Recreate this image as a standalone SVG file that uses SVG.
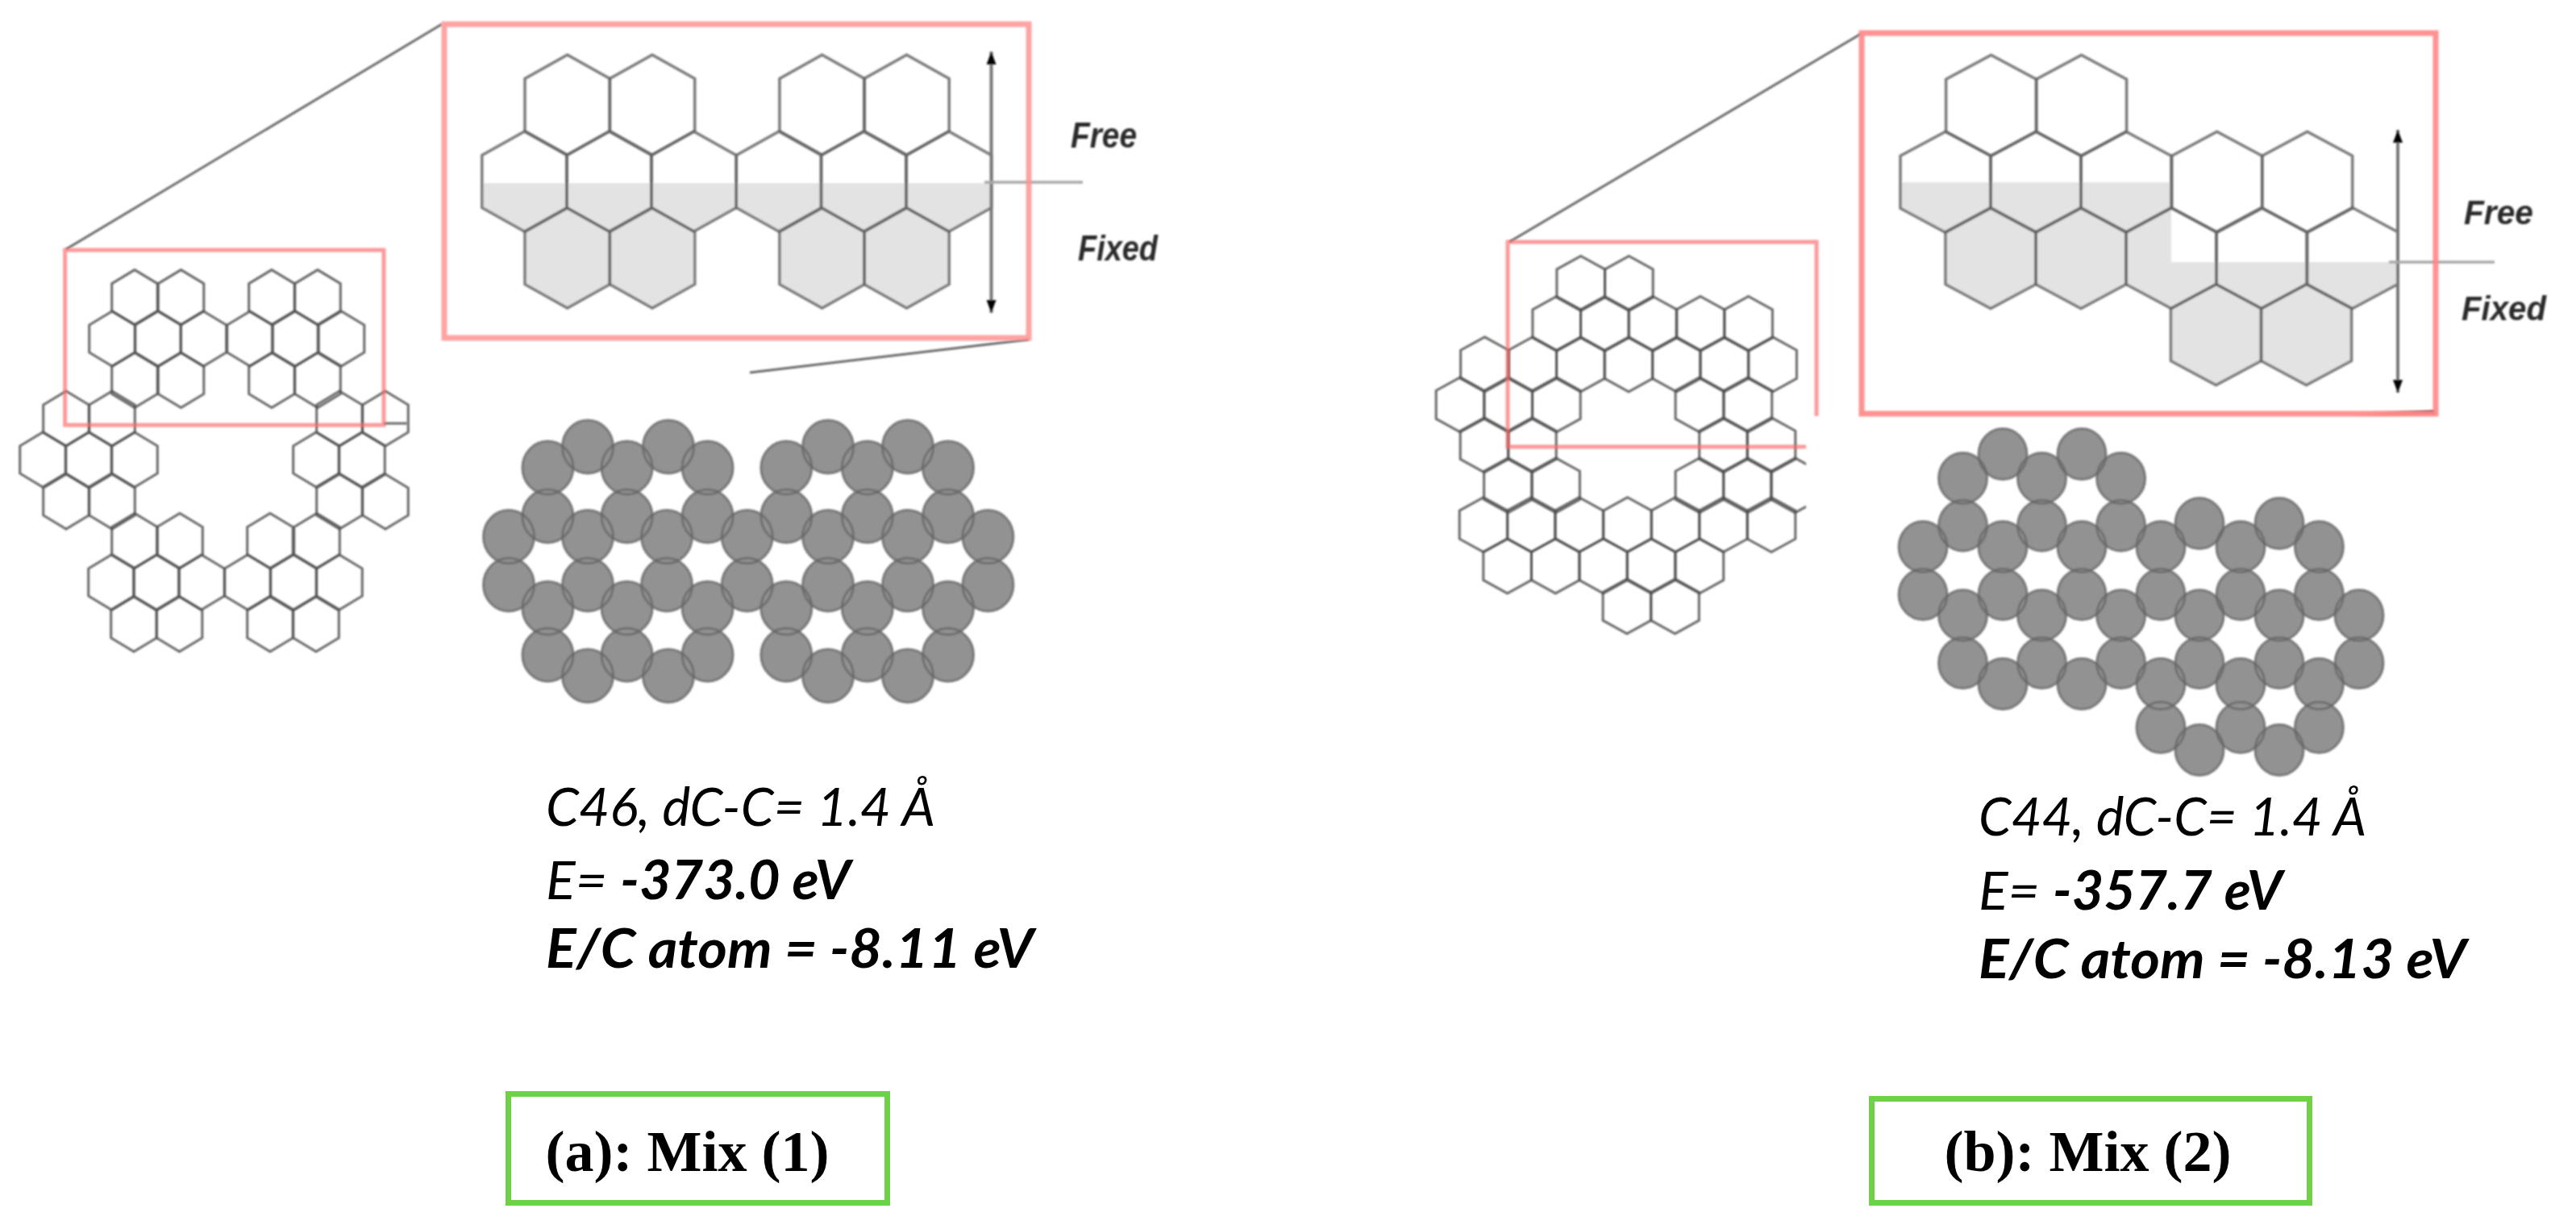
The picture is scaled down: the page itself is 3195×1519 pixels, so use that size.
<svg xmlns="http://www.w3.org/2000/svg" width="3195" height="1519" viewBox="0 0 3195 1519">
<style>
.hex{fill:none;stroke:#4f4f4f;stroke-width:3;stroke-opacity:.85;stroke-linejoin:miter}
.hexL{fill:none;stroke:#636363;stroke-width:3.5;stroke-opacity:.85}
.atomFill{fill:#929292;stroke:none}
.atomLine{fill:none;stroke:#666;stroke-width:3;stroke-opacity:.8}
.redS{fill:none;stroke:#ff6a6a;stroke-width:5;stroke-opacity:.68}
.redL{fill:none;stroke:#ff9393;stroke-width:7;stroke-opacity:.85}
.redM{fill:none;stroke:#ff8686;stroke-width:7;stroke-opacity:.9}
.zoomline{fill:none;stroke:#6a6a6a;stroke-width:3}
.band{fill:#e3e3e3;stroke:none}
.axis{fill:none;stroke:#777;stroke-width:4;marker-start:url(#head);marker-end:url(#head)}
.tick{fill:none;stroke:#a8a8a8;stroke-width:3.5}
.lab{font-family:"Liberation Sans",Arial,sans-serif;font-style:italic;font-weight:700;fill:#2a2a2a}
.info{font-family:Lato,"Open Sans",sans-serif;font-style:italic;font-size:66px;fill:#000}
.b{font-weight:700}
.cap{font-family:"Liberation Serif","Times New Roman",serif;font-weight:700;font-size:72px;fill:#000}
.gbox{fill:none;stroke:#6fd147;stroke-width:7}
</style>
<defs>
<polygon id="hs" class="hex" points="0,-34 28.3,-17 28.3,17 0,34 -28.3,17 -28.3,-17"/>
<polygon id="hr" class="hex" points="0,-33.9 29.8,-17.5 29.8,17.5 0,33.9 -29.8,17.5 -29.8,-17.5"/>
<polygon id="hl" class="hexL" points="0,-62 52.7,-32.5 52.7,32.5 0,62 -52.7,32.5 -52.7,-32.5"/>
<polygon id="hm" class="hexL" points="0,-62.5 56,-32.5 56,32.5 0,62.5 -56,32.5 -56,-32.5"/>
<ellipse id="ca" rx="31.5" ry="33"/>
<ellipse id="cb" rx="30" ry="31.5"/>
<g id="atomsA">
<use href="#ca" x="729" y="554"/><use href="#ca" x="829" y="554"/><use href="#ca" x="1027" y="554"/><use href="#ca" x="1126" y="554"/>
<use href="#ca" x="679.4" y="580"/><use href="#ca" x="777.6" y="580"/><use href="#ca" x="877.6" y="580"/><use href="#ca" x="975.3" y="580"/><use href="#ca" x="1075.8" y="580"/><use href="#ca" x="1176" y="580"/>
<use href="#ca" x="679.4" y="640"/><use href="#ca" x="777.6" y="640"/><use href="#ca" x="877.6" y="640"/><use href="#ca" x="975.3" y="640"/><use href="#ca" x="1075.8" y="640"/><use href="#ca" x="1176" y="640"/>
<use href="#ca" x="631" y="665.6"/><use href="#ca" x="729" y="665.6"/><use href="#ca" x="827" y="665.6"/><use href="#ca" x="926.7" y="665.6"/><use href="#ca" x="1027" y="665.6"/><use href="#ca" x="1126" y="665.6"/><use href="#ca" x="1225.4" y="665.6"/>
<use href="#ca" x="631" y="725"/><use href="#ca" x="729" y="725"/><use href="#ca" x="827" y="725"/><use href="#ca" x="926.7" y="725"/><use href="#ca" x="1027" y="725"/><use href="#ca" x="1126" y="725"/><use href="#ca" x="1225.4" y="725"/>
<use href="#ca" x="679.4" y="754"/><use href="#ca" x="777.6" y="754"/><use href="#ca" x="877.6" y="754"/><use href="#ca" x="975.3" y="754"/><use href="#ca" x="1075.8" y="754"/><use href="#ca" x="1176" y="754"/>
<use href="#ca" x="679.4" y="812"/><use href="#ca" x="777.6" y="812"/><use href="#ca" x="877.6" y="812"/><use href="#ca" x="975.3" y="812"/><use href="#ca" x="1075.8" y="812"/><use href="#ca" x="1176" y="812"/>
<use href="#ca" x="729" y="838"/><use href="#ca" x="829" y="838"/><use href="#ca" x="1027" y="838"/><use href="#ca" x="1126" y="838"/>
</g>
<g id="atomsB">
<use href="#cb" x="2484" y="563"/><use href="#cb" x="2582" y="563"/>
<use href="#cb" x="2434.5" y="593"/><use href="#cb" x="2532.5" y="593"/><use href="#cb" x="2630.6" y="593"/>
<use href="#cb" x="2434.5" y="651.7"/><use href="#cb" x="2532.5" y="651.7"/><use href="#cb" x="2630.6" y="651.7"/>
<use href="#cb" x="2728" y="649"/><use href="#cb" x="2827" y="649"/>
<use href="#cb" x="2385" y="678"/><use href="#cb" x="2484" y="678"/><use href="#cb" x="2582" y="678"/><use href="#cb" x="2680" y="678"/><use href="#cb" x="2779" y="678"/><use href="#cb" x="2876.4" y="678"/>
<use href="#cb" x="2385" y="737"/><use href="#cb" x="2484" y="737"/><use href="#cb" x="2582" y="737"/><use href="#cb" x="2680" y="737"/><use href="#cb" x="2779" y="737"/><use href="#cb" x="2876.4" y="737"/>
<use href="#cb" x="2434.5" y="763"/><use href="#cb" x="2532.5" y="763"/><use href="#cb" x="2630.6" y="763"/><use href="#cb" x="2728" y="763"/><use href="#cb" x="2827" y="763"/><use href="#cb" x="2926" y="763"/>
<use href="#cb" x="2434.5" y="822"/><use href="#cb" x="2532.5" y="822"/><use href="#cb" x="2630.6" y="822"/><use href="#cb" x="2728" y="822"/><use href="#cb" x="2827" y="822"/><use href="#cb" x="2926" y="822"/>
<use href="#cb" x="2484" y="848"/><use href="#cb" x="2582" y="848"/><use href="#cb" x="2680" y="848"/><use href="#cb" x="2779" y="848"/><use href="#cb" x="2876.4" y="848"/>
<use href="#cb" x="2680" y="902"/><use href="#cb" x="2779" y="902"/><use href="#cb" x="2876.4" y="902"/>
<use href="#cb" x="2728" y="930"/><use href="#cb" x="2827" y="930"/>
</g>
<marker id="head" viewBox="0 0 16 12" markerUnits="userSpaceOnUse" markerWidth="16" markerHeight="12" refX="16" refY="6" orient="auto-start-reverse"><path d="M0,0 L16,6 L0,12 z" fill="#000"/></marker>
<filter id="soft" x="-5%" y="-5%" width="110%" height="110%"><feGaussianBlur stdDeviation="0.8"/></filter>
<clipPath id="cut"><rect x="1700" y="280" width="540" height="520"/></clipPath>
<linearGradient id="fade" x1="0" x2="1" y1="0" y2="0"><stop offset="0" stop-color="#8a3a3a" stop-opacity="0"/><stop offset="1" stop-color="#7a4040"/></linearGradient>
</defs>
<rect width="3195" height="1519" fill="#fff"/>

<g id="panel-a-sheet" filter="url(#soft)">
<use href="#hs" x="167" y="368.6"/><use href="#hs" x="224.5" y="368.6"/><use href="#hs" x="337" y="368.6"/><use href="#hs" x="394" y="368.6"/>
<use href="#hs" x="139" y="420"/><use href="#hs" x="196" y="420"/><use href="#hs" x="252.5" y="420"/><use href="#hs" x="310" y="420"/><use href="#hs" x="366" y="420"/><use href="#hs" x="423.5" y="420"/>
<use href="#hs" x="167" y="471.5"/><use href="#hs" x="224.5" y="471.5"/><use href="#hs" x="337" y="471.5"/><use href="#hs" x="394" y="471.5"/>
<use href="#hs" x="82" y="519"/><use href="#hs" x="139" y="519"/><use href="#hs" x="421" y="519"/><use href="#hs" x="478" y="519"/>
<use href="#hs" x="53" y="570"/><use href="#hs" x="110" y="570"/><use href="#hs" x="167" y="570"/><use href="#hs" x="392" y="570"/><use href="#hs" x="449" y="570"/>
<use href="#hs" x="82" y="622"/><use href="#hs" x="139" y="622"/><use href="#hs" x="421" y="622"/><use href="#hs" x="478" y="622"/>
<use href="#hs" x="167" y="670.5"/><use href="#hs" x="223" y="670.5"/><use href="#hs" x="335" y="670.5"/><use href="#hs" x="393" y="670.5"/>
<use href="#hs" x="138" y="722"/><use href="#hs" x="194" y="722"/><use href="#hs" x="250" y="722"/><use href="#hs" x="307" y="722"/><use href="#hs" x="364" y="722"/><use href="#hs" x="421" y="722"/>
<use href="#hs" x="166" y="774"/><use href="#hs" x="222.5" y="774"/><use href="#hs" x="335" y="774"/><use href="#hs" x="392" y="774"/>
</g>

<g id="panel-a-zoom" filter="url(#soft)">
<polygon class="band" points="598,227 1229.5,227 1229.5,257 1177,287 1177,352 1124.5,383 1072,352 1019.6,383 967,352 967,287 913,257 861,287 861,352 809,383 756,352 703.7,383 651,352 651,287 598,257"/>
<use href="#hl" x="703.7" y="130"/><use href="#hl" x="809" y="130"/><use href="#hl" x="1019.6" y="130"/><use href="#hl" x="1124.5" y="130"/>
<use href="#hl" x="650.5" y="225"/><use href="#hl" x="755.5" y="225"/><use href="#hl" x="860.5" y="225"/><use href="#hl" x="966" y="225"/><use href="#hl" x="1071" y="225"/><use href="#hl" x="1177" y="225"/>
<use href="#hl" x="703.7" y="320"/><use href="#hl" x="809" y="320"/><use href="#hl" x="1019.6" y="320"/><use href="#hl" x="1124.5" y="320"/>
<path class="axis" d="M1229.5,64 V388"/>
<path class="tick" d="M1221,226 H1343"/>
<text class="lab" x="1328" y="183" font-size="45" textLength="82" lengthAdjust="spacingAndGlyphs">Free</text>
<text class="lab" x="1337" y="323" font-size="45" textLength="99" lengthAdjust="spacingAndGlyphs">Fixed</text>
</g>

<g id="panel-a-atoms" filter="url(#soft)">
<use href="#atomsA" class="atomFill"/>
<use href="#atomsA" class="atomLine"/>
</g>

<g id="panel-b-sheet" filter="url(#soft)">
<g clip-path="url(#cut)">
<use href="#hr" x="1960.7" y="351.4"/><use href="#hr" x="2020.4" y="351.4"/>
<use href="#hr" x="1930.7" y="401.4"/><use href="#hr" x="1990.4" y="401.4"/><use href="#hr" x="2050" y="401.4"/><use href="#hr" x="2109" y="401.4"/><use href="#hr" x="2168.6" y="401.4"/>
<use href="#hr" x="1841.4" y="451.8"/><use href="#hr" x="1900.7" y="451.8"/><use href="#hr" x="1960.4" y="451.8"/><use href="#hr" x="2020" y="451.8"/><use href="#hr" x="2079.3" y="451.8"/><use href="#hr" x="2138.6" y="451.8"/><use href="#hr" x="2198.6" y="451.8"/>
<use href="#hr" x="1811" y="501.8"/><use href="#hr" x="1870.7" y="501.8"/><use href="#hr" x="1930.4" y="501.8"/><use href="#hr" x="2107.9" y="501.8"/><use href="#hr" x="2167.9" y="501.8"/>
<use href="#hr" x="1841" y="551.8"/><use href="#hr" x="1900.4" y="551.8"/><use href="#hr" x="2137.5" y="551.8"/><use href="#hr" x="2197" y="551.8"/>
<use href="#hr" x="1870.4" y="601.8"/><use href="#hr" x="1929.6" y="601.8"/><use href="#hr" x="2107.9" y="601.8"/><use href="#hr" x="2167.5" y="601.8"/><use href="#hr" x="2226.4" y="601.8"/>
<use href="#hr" x="1840" y="650.7"/><use href="#hr" x="1899.3" y="650.7"/><use href="#hr" x="1958.6" y="650.7"/><use href="#hr" x="2018.6" y="650.7"/><use href="#hr" x="2078" y="650.7"/><use href="#hr" x="2137.5" y="650.7"/><use href="#hr" x="2197" y="650.7"/>
<use href="#hr" x="1869.6" y="701.8"/><use href="#hr" x="1929.3" y="701.8"/><use href="#hr" x="1988.6" y="701.8"/><use href="#hr" x="2047.9" y="701.8"/><use href="#hr" x="2107.9" y="701.8"/>
<use href="#hr" x="2017.9" y="751.8"/><use href="#hr" x="2077.5" y="751.8"/>
</g>
</g>

<g id="panel-b-zoom" filter="url(#soft)">
<polygon class="band" points="2357,226 2693,226 2693,325 2974,325 2974,353 2917.7,383 2916.5,447 2860.5,478 2804.5,447 2748.5,478 2692.5,447 2692.5,383 2637,352 2581,383 2525,352 2469,383 2413,352 2413,288 2357,258"/>
<use href="#hm" x="2469.6" y="130.8"/><use href="#hm" x="2581.6" y="130.8"/>
<use href="#hm" x="2413" y="225.8"/><use href="#hm" x="2525" y="225.8"/><use href="#hm" x="2637" y="225.8"/><use href="#hm" x="2749.7" y="225.8"/><use href="#hm" x="2861.7" y="225.8"/>
<use href="#hm" x="2469" y="320"/><use href="#hm" x="2581" y="320"/><use href="#hm" x="2693" y="320"/><use href="#hm" x="2805" y="320"/><use href="#hm" x="2917.7" y="320"/>
<use href="#hm" x="2748.5" y="415"/><use href="#hm" x="2860.5" y="415"/>
<path class="axis" d="M2974,161 V487"/>
<path class="tick" d="M2963,325 H3094"/>
<text class="lab" x="3056" y="278" font-size="43" textLength="86" lengthAdjust="spacingAndGlyphs">Free</text>
<text class="lab" x="3053" y="397" font-size="43" textLength="105" lengthAdjust="spacingAndGlyphs">Fixed</text>
</g>

<g id="panel-b-atoms" filter="url(#soft)">
<use href="#atomsB" class="atomFill"/>
<use href="#atomsB" class="atomLine"/>
</g>

<g id="connectors" filter="url(#soft)">
<path class="zoomline" d="M82,309 L548,30"/>
<path class="zoomline" d="M476,525 H505"/>
<path class="zoomline" d="M1276,421 L930,462" stroke="#858585"/>
<path class="zoomline" d="M1872,300 L2308,42"/>
<path d="M2920,514 L3020,511" fill="none" stroke="url(#fade)" stroke-width="5"/>
</g>

<g id="frames" filter="url(#soft)">
<rect class="redS" x="80.6" y="310" width="395.4" height="217"/>
<rect class="redL" x="551" y="30" width="725" height="389"/>
<path class="redS" d="M2253,516 V300 H1870 V554 H2240"/>
<rect class="redM" x="2309" y="41" width="712" height="472"/>
</g>

<g id="label-a">
<text class="info" x="677" y="1024" textLength="483" lengthAdjust="spacingAndGlyphs">C46, dC-C= 1.4 Å</text>
<text class="info" x="677" y="1115.4" textLength="378" lengthAdjust="spacingAndGlyphs">E= <tspan class="b">-373.0 eV</tspan></text>
<text class="info b" x="677" y="1200" textLength="605" lengthAdjust="spacingAndGlyphs">E/C atom = -8.11 eV</text>
<rect class="gbox" x="630.5" y="1356.5" width="470" height="135"/>
<text class="cap" x="676.6" y="1451.5">(a): Mix (1)</text>
</g>

<g id="label-b">
<text class="info" x="2454" y="1036" textLength="481" lengthAdjust="spacingAndGlyphs">C44, dC-C= 1.4 Å</text>
<text class="info" x="2454" y="1127.6" textLength="377" lengthAdjust="spacingAndGlyphs">E= <tspan class="b">-357.7 eV</tspan></text>
<text class="info b" x="2454" y="1212.5" textLength="605" lengthAdjust="spacingAndGlyphs">E/C atom = -8.13 eV</text>
<rect class="gbox" x="2321.5" y="1362.5" width="543" height="129"/>
<text class="cap" x="2411.5" y="1451.5">(b): Mix (2)</text>
</g>
</svg>
